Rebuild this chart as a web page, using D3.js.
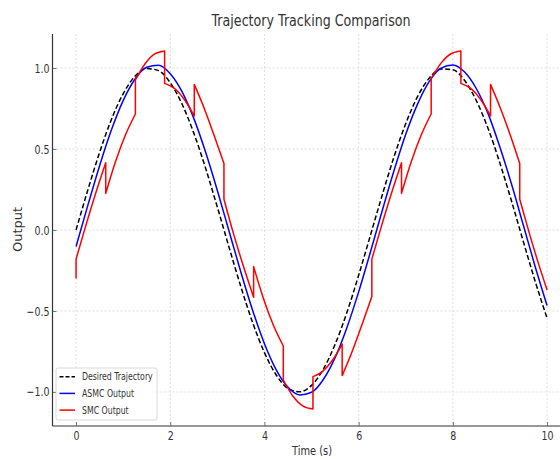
<!DOCTYPE html>
<html>
<head>
<meta charset="utf-8">
<script src="https://cdn.jsdelivr.net/npm/d3@7"></script>
<style>
  body { margin: 0; background: #fff; }
  svg { display: block; font-family: "DejaVu Sans", sans-serif; }
</style>
</head>
<body>
<svg id="chart" width="560" height="459"></svg>
<script>
// values
const timeGrid = [0, 0.25, 0.5, 0.75, 1, 1.25, 1.5, 1.75, 2, 2.25, 2.5, 2.75, 3, 3.25, 3.5, 3.75,
  4, 4.25, 4.5, 4.75, 5, 5.25, 5.5, 5.75, 6, 6.25, 6.5, 6.75, 7, 7.25, 7.5, 7.75,
  8, 8.25, 8.5, 8.75, 9, 9.25, 9.5, 9.75, 10];

const desiredValues = [0, 0.247, 0.479, 0.682, 0.841, 0.949, 0.997, 0.984, 0.909, 0.778, 0.598, 0.382,
  0.141, -0.108, -0.351, -0.572, -0.757, -0.895, -0.978, -0.999, -0.959, -0.859, -0.706, -0.510,
  -0.279, -0.033, 0.215, 0.451, 0.657, 0.823, 0.938, 0.994, 0.989, 0.923, 0.798, 0.625,
  0.412, 0.174, -0.075, -0.319, -0.544];

const asmcValues = [-0.102, 0.152, 0.397, 0.617, 0.799, 0.931, 1.005, 1.017, 0.965, 0.854, 0.689, 0.481,
  0.244, -0.009, -0.261, -0.497, -0.702, -0.863, -0.971, -1.018, -1.002, -0.923, -0.788, -0.603,
  -0.382, -0.136, 0.119, 0.366, 0.591, 0.777, 0.917, 0.999, 1.019, 0.975, 0.872, 0.717,
  0.511, 0.279, 0.026, -0.228, -0.466];

// SMC output: a repeated time means a jump
const smcTimes = [0, 0, 0.21, 0.42, 0.63, 0.63, 0.84, 1.05, 1.26, 1.26, 1.47, 1.67, 1.88,
  1.88, 2.09, 2.30, 2.51, 2.51, 2.72, 2.93, 3.14, 3.14, 3.35, 3.56, 3.77,
  3.77, 3.98, 4.19, 4.40, 4.40, 4.61, 4.82, 5.03, 5.03, 5.23, 5.44, 5.65,
  5.65, 5.86, 6.07, 6.28, 6.28, 6.49, 6.70, 6.91, 6.91, 7.12, 7.33, 7.54,
  7.54, 7.75, 7.96, 8.17, 8.17, 8.38, 8.59, 8.80, 8.80, 9.01, 9.22, 9.42,
  9.42, 9.62, 9.81, 10];
const smcValues = [-0.30, -0.18, 0.03, 0.23, 0.415, 0.226, 0.424, 0.588, 0.716, 0.926, 1.028, 1.087, 1.105,
  0.905, 0.874, 0.806, 0.704, 0.899, 0.752, 0.585, 0.41, 0.19, -0.03, -0.23, -0.415,
  -0.226, -0.424, -0.588, -0.716, -0.926, -1.028, -1.087, -1.105, -0.905, -0.874, -0.806, -0.704,
  -0.899, -0.752, -0.585, -0.41, -0.18, 0.03, 0.23, 0.415, 0.226, 0.424, 0.588, 0.716,
  0.935, 1.03, 1.088, 1.105, 0.905, 0.874, 0.806, 0.704, 0.899, 0.752, 0.585, 0.41,
  0.19, -0.016, -0.2, -0.37];

const xTicks = [0, 2, 4, 6, 8, 10];
const yTicks = [-1.0, -0.5, 0.0, 0.5, 1.0];
const legendLabels = ["Desired Trajectory", "ASMC Output", "SMC Output"];

const svg = d3.select("#chart");
const plotLeft = 52.5, plotRight = 570.6, plotTop = 34, plotBottom = 426;

const x = d3.scaleLinear().domain([-0.5, 10.5]).range([plotLeft, plotRight]);
const y = d3.scaleLinear().domain([-1.21, 1.21]).range([plotBottom, plotTop]);

const sx = 0.76; // text in the picture is squeezed sideways

// grid
const grid = svg.append("g").attr("stroke", "#d6d6d6").attr("stroke-width", 0.8)
  .attr("stroke-dasharray", "2,2");
grid.selectAll(".gx").data(xTicks).join("line")
  .attr("x1", d => x(d)).attr("x2", d => x(d)).attr("y1", plotTop).attr("y2", plotBottom);
grid.selectAll(".gy").data(yTicks).join("line")
  .attr("x1", plotLeft).attr("x2", 560).attr("y1", d => y(d)).attr("y2", d => y(d));

// lines
const line = d3.line().x(d => x(d[0])).y(d => y(d[1])).curve(d3.curveMonotoneX);

const desired = timeGrid.map((t, i) => [t, desiredValues[i]]);
const asmc = timeGrid.map((t, i) => [t, asmcValues[i]]);

// split SMC into smooth pieces, then join them with vertical jumps
const pieces = [];
smcTimes.forEach((t, i) => {
  if (i === 0 || t === smcTimes[i - 1]) pieces.push([]);
  pieces[pieces.length - 1].push([t, smcValues[i]]);
});
let smcPath = "";
pieces.forEach((p, k) => {
  let s;
  if (p.length === 1) s = `M${x(p[0][0])},${y(p[0][1])}`;
  else s = line(p);
  if (k > 0) s = "L" + s.slice(1);
  smcPath += s;
});

svg.append("path").attr("d", line(desired)).attr("fill", "none")
  .attr("stroke", "#000").attr("stroke-width", 1.5).attr("stroke-dasharray", "5,2.5");
svg.append("path").attr("d", line(asmc)).attr("fill", "none")
  .attr("stroke", "#0000ff").attr("stroke-width", 1.5);
svg.append("path").attr("d", smcPath).attr("fill", "none")
  .attr("stroke", "#ff0000").attr("stroke-width", 1.5).attr("stroke-linejoin", "round");

// axes
const xAxis = svg.append("g").attr("transform", `translate(0,${plotBottom})`)
  .call(d3.axisBottom(x).tickValues(xTicks).tickFormat(d3.format("d"))
    .tickSizeInner(-4).tickSizeOuter(0).tickPadding(5));
const yAxis = svg.append("g").attr("transform", `translate(${plotLeft},0)`)
  .call(d3.axisLeft(y).tickValues(yTicks).tickFormat(d3.format(".1f"))
    .tickSizeInner(-4).tickSizeOuter(0).tickPadding(3));

[xAxis, yAxis].forEach(a => {
  a.select(".domain").attr("stroke", "#333").attr("stroke-width", 1.2);
  a.selectAll(".tick line").attr("stroke", "#555").attr("stroke-width", 0.8);
  a.selectAll("text").attr("font-size", 12.5).attr("fill", "#333")
    .attr("font-family", "DejaVu Sans");
});
xAxis.select(".domain").attr("d", `M${plotLeft},0H560`);
yAxis.select(".domain").attr("d", `M0,${plotTop}V${plotBottom}`);
xAxis.selectAll("text").attr("transform", `scale(${sx},1)`);
yAxis.selectAll("text").attr("x", -3 / sx).attr("transform", `scale(${sx},1)`);

// title and labels
svg.append("text").attr("x", 311).attr("y", 26).attr("text-anchor", "middle")
  .attr("font-size", 15).attr("fill", "#333")
  .attr("textLength", 199).attr("lengthAdjust", "spacingAndGlyphs")
  .text("Trajectory Tracking Comparison");

svg.append("text").attr("transform", `translate(312,455) scale(${sx},1)`)
  .attr("text-anchor", "middle").attr("font-size", 13).attr("fill", "#333")
  .text("Time (s)");

svg.append("text").attr("transform", `translate(22,229.5) rotate(-90)`)
  .attr("text-anchor", "middle").attr("font-size", 13).attr("fill", "#333")
  .text("Output");

// legend
const lg = svg.append("g");
lg.append("rect").attr("x", 56).attr("y", 368).attr("width", 101).attr("height", 52)
  .attr("rx", 2).attr("fill", "#fff").attr("fill-opacity", 0.85)
  .attr("stroke", "#d0d0d0").attr("stroke-width", 0.8);
const legendStyles = [
  { color: "#000", dash: "4,2" },
  { color: "#0000ff", dash: null },
  { color: "#ff0000", dash: null }
];
legendLabels.forEach((label, i) => {
  const cy = 376.7 + i * 16.7;
  lg.append("line").attr("x1", 59.5).attr("x2", 75).attr("y1", cy).attr("y2", cy)
    .attr("stroke", legendStyles[i].color).attr("stroke-width", 1.5)
    .attr("stroke-dasharray", legendStyles[i].dash);
  lg.append("text").attr("transform", `translate(82,${cy + 3.6}) scale(0.78,1)`)
    .attr("font-size", 10).attr("fill", "#333").text(label);
});
</script>
</body>
</html>
